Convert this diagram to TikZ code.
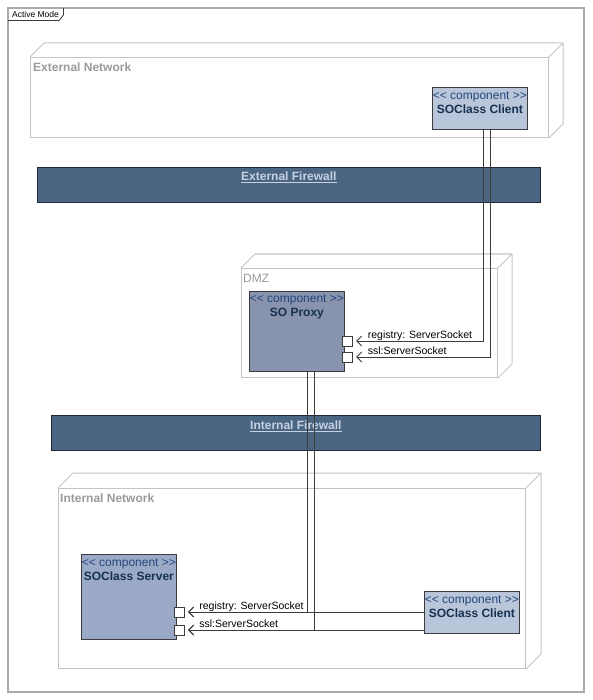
\documentclass[tikz,border=0pt]{standalone}
\usepackage{fontspec}
\setmainfont{Liberation Sans}
\usetikzlibrary{arrows.meta, positioning}

\definecolor{framegray}{HTML}{ABABAB}
\definecolor{nodegray}{HTML}{C4C4C4}
\definecolor{labelgray}{HTML}{9A9A9A}
\definecolor{compline}{HTML}{3C3C3C}
\definecolor{stereoblue}{HTML}{24467A}
\definecolor{namenavy}{HTML}{16304F}
\definecolor{clientfill}{HTML}{B9C6DA}
\definecolor{proxyfill}{HTML}{8893AE}
\definecolor{serverfill}{HTML}{9AAAC6}
\definecolor{wallfill}{HTML}{4A6683}
\definecolor{wallline}{HTML}{1E2A38}
\definecolor{walltext}{HTML}{C6D1E2}

\newcommand{\stereo}{<\kern0pt< component >\kern0pt>}

\begin{document}
\begin{tikzpicture}[x=1pt,y=-1pt,
    font=\fontsize{12}{13}\selectfont,
    depnode/.style={draw=nodegray, line width=1pt, anchor=north west, inner sep=0pt},
    deplines/.style={draw=nodegray, line width=1pt, line join=bevel},
    deplabel/.style={text=labelgray, anchor=west, inner sep=0pt},
    comp/.style={draw=compline, line width=0.8pt, anchor=north west, inner sep=0pt},
    comptext/.style={text=stereoblue, align=center, inner sep=0pt, anchor=north},
    port/.style={draw=compline, fill=white, line width=0.7pt, minimum size=10pt, inner sep=0pt},
    wall/.style={draw=wallline, fill=wallfill, line width=0.8pt, anchor=north west, inner sep=0pt},
    walllabel/.style={text=walltext, font=\fontsize{12}{13}\selectfont\bfseries, inner sep=0pt},
    conn/.style={draw=compline, line width=0.8pt, -{Straight Barb[length=5pt,width=10pt]}, shorten >=3pt},
    portlabel/.style={font=\fontsize{10.5}{12}\selectfont, anchor=base west, inner sep=0pt}
  ]
  \useasboundingbox (0,0) rectangle (592,700);

  % frame
  \draw[framegray, line width=1.2pt] (8,8) rectangle (584,692);
  \node (mode) [anchor=center, font=\fontsize{8.5}{9}\selectfont, inner sep=0pt] at (35.5,14.5) {Active Mode};
  \draw[compline, line width=0.8pt] (8,20.5) -- (59,20.5) -- (63.5,15) -- (63.5,8);

  % deployment nodes
  \node (extnet) [depnode, minimum width=518pt, minimum height=80pt] at (30,57) {};
  \draw[deplines] (extnet.north west) -- ++(14,-14) -- ([shift={(14,-14)}]extnet.north east)
    -- ([shift={(14,-14)}]extnet.south east) -- (extnet.south east)
    (extnet.north east) -- ++(14,-14);
  \node (extlbl) [deplabel, font=\fontsize{12}{13}\selectfont\bfseries] at ([shift={(3,10)}]extnet.north west) {External Network};

  \node (dmz) [depnode, minimum width=256pt, minimum height=109pt] at (241,268) {};
  \draw[deplines] (dmz.north west) -- ++(14,-14) -- ([shift={(14,-14)}]dmz.north east)
    -- ([shift={(14,-14)}]dmz.south east) -- (dmz.south east)
    (dmz.north east) -- ++(14,-14);
  \node (dmzlbl) [deplabel] at ([shift={(2,10)}]dmz.north west) {DMZ};

  \node (intnet) [depnode, minimum width=467pt, minimum height=180pt] at (58,488) {};
  \draw[deplines] (intnet.north west) -- ++(15,-15) -- ([shift={(15,-15)}]intnet.north east)
    -- ([shift={(15,-15)}]intnet.south east) -- (intnet.south east)
    (intnet.north east) -- ++(15,-15);
  \node (intlbl) [deplabel, font=\fontsize{12}{13}\selectfont\bfseries] at ([shift={(2,10)}]intnet.north west) {Internal Network};

  % firewalls
  \node (extwall) [wall, minimum width=503pt, minimum height=35pt] at (37,167) {};
  \node (extwlbl) [walllabel] at ([shift={(0,10.5)}]extwall.north) {\underline{External Firewall}};
  \node (intwall) [wall, minimum width=489pt, minimum height=35pt] at (51,415) {};
  \node (intwlbl) [walllabel] at ([shift={(0,11)}]intwall.north) {\underline{Internal Firewall}};

  % components
  \node (cltop) [comp, fill=clientfill, minimum width=95pt, minimum height=42pt] at (432,87) {};
  \node (cltoptxt) [comptext] at ([shift={(0,4.5)}]cltop.north) {\stereo\\[0.8pt]\textcolor{namenavy}{\bfseries SOClass Client}};

  \node (proxy) [comp, fill=proxyfill, minimum width=95pt, minimum height=80pt] at (249,291) {};
  \node (proxytxt) [comptext] at ([shift={(0,3.5)}]proxy.north) {\stereo\\[0.8pt]\textcolor{namenavy}{\bfseries SO Proxy}};

  \node (server) [comp, fill=serverfill, minimum width=95pt, minimum height=85pt] at (81,554) {};
  \node (servertxt) [comptext] at ([shift={(0,4.5)}]server.north) {\stereo\\[0.8pt]\textcolor{namenavy}{\bfseries SOClass Server}};

  \node (clbot) [comp, fill=clientfill, minimum width=95pt, minimum height=42pt] at (424,591) {};
  \node (clbottxt) [comptext] at ([shift={(0,4.5)}]clbot.north) {\stereo\\[0.8pt]\textcolor{namenavy}{\bfseries SOClass Client}};

  % ports
  \node (pxreg) [port] at ([shift={(3,50)}]proxy.north east) {};
  \node (pxssl) [port] at ([shift={(3,66)}]proxy.north east) {};
  \node (svreg) [port] at ([shift={(3,58)}]server.north east) {};
  \node (svssl) [port] at ([shift={(3,76)}]server.north east) {};

  \node (pxreglbl) [portlabel] at ([shift={(14.5,-2.5)}]pxreg.east) {registry: ServerSocket};
  \node (pxssllbl) [portlabel] at ([shift={(14.5,-2.5)}]pxssl.east) {ssl:ServerSocket};
  \node (svreglbl) [portlabel] at ([shift={(14,-2.5)}]svreg.east) {registry: ServerSocket};
  \node (svssllbl) [portlabel] at ([shift={(14,-2.5)}]svssl.east) {ssl:ServerSocket};

  % connectors
  \draw[conn] ([xshift=3.5pt]cltop.south) |- (pxreg.east);
  \draw[conn] ([xshift=10.5pt]cltop.south) |- (pxssl.east);
  \draw[conn] ([xshift=10.5pt]proxy.south) |- (svreg.east);
  \draw[conn] ([xshift=17.5pt]proxy.south) |- (svssl.east);
  \draw[conn] (clbot.west |- svreg) -- (svreg.east);
  \draw[conn] (clbot.west |- svssl) -- (svssl.east);
\end{tikzpicture}
\end{document}
